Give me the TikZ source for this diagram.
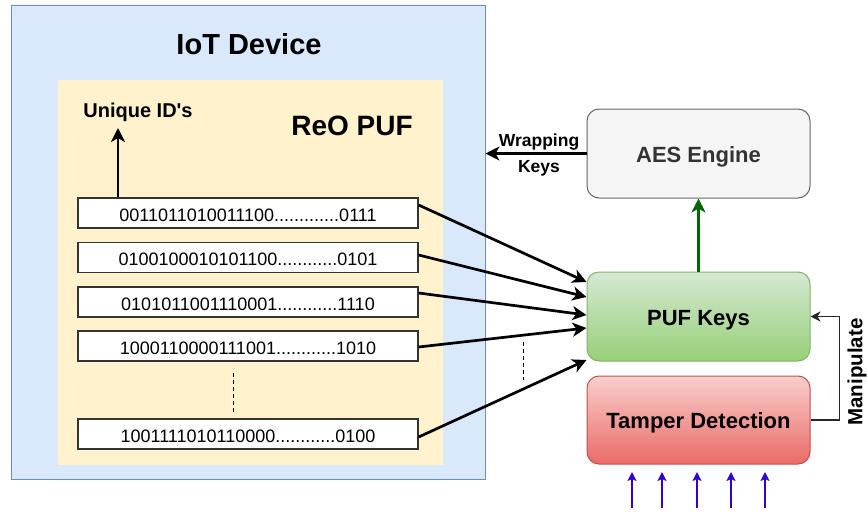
\documentclass[tikz,border=0pt]{standalone}
\usepackage{fontspec}
\setmainfont{Liberation Sans}
\usetikzlibrary{calc,arrows.meta}
\definecolor{devfill}{HTML}{DAE8FC}
\definecolor{devline}{HTML}{6C8EBF}
\definecolor{puffill}{HTML}{FFF2CC}
\definecolor{aesfill}{HTML}{F5F5F5}
\definecolor{aesline}{HTML}{666666}
\definecolor{aestext}{HTML}{333333}
\definecolor{keytop}{HTML}{D5E8D4}
\definecolor{keybot}{HTML}{97D077}
\definecolor{keyline}{HTML}{82B366}
\definecolor{tamptop}{HTML}{F8CECC}
\definecolor{tampbot}{HTML}{EA6B66}
\definecolor{tampline}{HTML}{B85450}
\definecolor{darkgreen}{HTML}{006600}
\definecolor{probeblue}{HTML}{3300CC}

\begin{document}
\begin{tikzpicture}[x=1pt,y=-1pt,
                    bits/.style={draw=black!80,fill=white,line width=1.3pt,minimum width=340pt,minimum height=30pt,inner sep=0pt,text height=16pt,text depth=0pt,font={\fontsize{18}{21}\selectfont}},
                    block/.style={rounded corners=12pt,minimum width=223pt,minimum height=89pt,inner sep=0pt,line width=1pt,text height=21pt,text depth=4pt,font={\fontsize{22}{26}\selectfont\bfseries}},
                    keyarrow/.style={-{Stealth[length=14pt,width=14pt,inset=4pt]},line width=2.7pt},
                    probe/.style={-{Stealth[length=9pt,width=9pt,inset=2pt]},line width=1.6pt,probeblue}]
    \useasboundingbox (0,0) rectangle (867,519);

    % device and puf area
    \node[draw=devline,fill=devfill,line width=1pt,minimum width=474pt,minimum height=473pt,inner sep=0pt] (iot) at (248,242.5) {};
    \node[font={\fontsize{29}{34}\selectfont\bfseries}] (iottitle) at (249,44) {IoT Device};
    \node[fill=puffill,minimum width=385pt,minimum height=385pt,inner sep=0pt] (puf) at (250.5,272.5) {};
    \node[font={\fontsize{28}{33}\selectfont\bfseries}] (puftitle) at (352,126) {ReO PUF};
    \node[font={\fontsize{20}{24}\selectfont\bfseries}] (uid) at (138,112) {Unique ID\textquotesingle s};

    % response bit strings
    \node[bits] (b1) at (248,213) {0011011010011100.............0111};
    \node[bits] (b2) at (248,257.5) {0100100010101100............0101};
    \node[bits] (b3) at (248,302) {0101011001110001............1110};
    \node[bits] (b4) at (248,346) {1000110000111001............1010};
    \node[bits] (b5) at (248,434) {1001111010110000............0100};
    \draw[line width=1pt,dash pattern=on 4pt off 3pt] (233,373) -- (233,413);

    % right hand blocks
    \node[block,draw=aesline,fill=aesfill,text=aestext] (aes) at (698.5,153.5) {AES Engine};
    \node[block,draw=keyline,top color=keytop,bottom color=keybot] (pufkeys) at (698.5,316.5) {PUF Keys};
    \node[block,draw=tampline,top color=tamptop,bottom color=tampbot,minimum height=88pt] (tamper) at (698.5,420) {Tamper Detection};
    \node[rotate=90,font={\fontsize{20.5}{24}\selectfont\bfseries}] (manip) at (857,372) {Manipulate};

    \coordinate (uidtip) at (118,128);
    \draw[keyarrow] (uidtip |- b1.north) -- (uidtip);

    \draw[keyarrow] ([yshift=8pt]b1.east) -- ([yshift=34.5pt]pufkeys.west);
    \draw[keyarrow] ([yshift=2.5pt]b2.east) -- ([yshift=19.5pt]pufkeys.west);
    \draw[keyarrow] ([yshift=9pt]b3.east) -- ([yshift=1.5pt]pufkeys.west);
    \draw[keyarrow] ([yshift=-1pt]b4.east) -- ([yshift=-11.5pt]pufkeys.west);
    \draw[keyarrow] ([yshift=-3pt]b5.east) -- ([yshift=-43.5pt]pufkeys.west);
    \draw[line width=1pt,dash pattern=on 4pt off 3pt] (523,342) -- (523,380);

    \draw[keyarrow,darkgreen] (pufkeys.north) -- (aes.south);
    \draw[keyarrow] (aes.west) -- (aes.west -| iot.east)
        node[midway,xshift=3pt,yshift=-1.5pt,align=center,font={\fontsize{17.5}{26}\selectfont\bfseries}] (wrap) {Wrapping\\Keys};
    \draw[-{Stealth[length=10pt,width=10pt,inset=3pt]},line width=1.5pt,black!85] (tamper.east) -- ++(29,0) |- (pufkeys.east);

    % tamper sensing inputs
    \coordinate (probe1) at (632,508);
    \coordinate (probe2) at (662,508);
    \coordinate (probe3) at (697,508);
    \coordinate (probe4) at (731,508);
    \coordinate (probe5) at (765,508);
    \draw[probe] (probe1) -- ++(0,-36);
    \draw[probe] (probe2) -- ++(0,-36);
    \draw[probe] (probe3) -- ++(0,-36);
    \draw[probe] (probe4) -- ++(0,-36);
    \draw[probe] (probe5) -- ++(0,-36);
\end{tikzpicture}
\end{document}
